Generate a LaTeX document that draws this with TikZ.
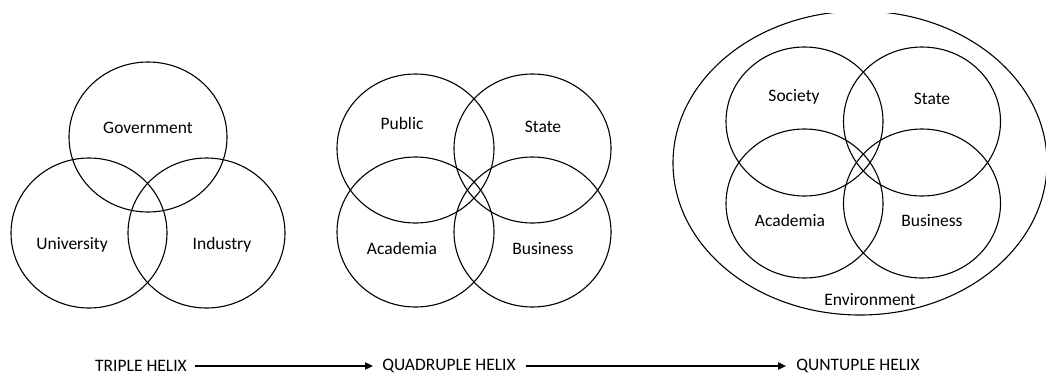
\documentclass[tikz,border=0pt]{standalone}
\usepackage{fontspec}
\setmainfont{Carlito}
\usetikzlibrary{arrows.meta}
\begin{document}
\begin{tikzpicture}[x=1pt,y=-1pt,
  ring/.style={draw=black,line width=1.1pt},
  lbl/.style={font=\fontsize{17.5}{20}\selectfont,inner sep=0pt},
  flow/.style={line width=1.8pt,-{Triangle[length=8pt,width=7pt]}}]
\useasboundingbox (0,0) rectangle (1046,376);
% Triple helix
\draw[ring] (148,137) ellipse [x radius=79,y radius=75];
\draw[ring] (89,233) ellipse [x radius=78,y radius=75];
\draw[ring] (206.5,233) ellipse [x radius=78.5,y radius=75];
\node[lbl] (gov) at (148,128) {Government};
\node[lbl] (uni) at (72,245) {University};
\node[lbl] (ind) at (222,245) {Industry};
% Quadruple helix
\draw[ring] (415.5,148.5) ellipse [x radius=78.5,y radius=74.5];
\draw[ring] (532.5,148.5) ellipse [x radius=78.5,y radius=74.5];
\draw[ring] (415.5,232) ellipse [x radius=78.5,y radius=75];
\draw[ring] (532.5,232) ellipse [x radius=78.5,y radius=75];
\node[lbl] (pub) at (402,123) {Public};
\node[lbl] (sta) at (543,127) {State};
\node[lbl] (aca) at (402,248) {Academia};
\node[lbl] (bus) at (543,249) {Business};
% Quintuple helix
\draw[ring] (860,163) ellipse [x radius=187,y radius=152];
\fill[white] (640,-1) rectangle (1046,12.6);
\draw[ring] (804.5,121.5) ellipse [x radius=78.5,y radius=74.5];
\draw[ring] (922,121.5) ellipse [x radius=78.5,y radius=74.5];
\draw[ring] (804.5,203.5) ellipse [x radius=78.5,y radius=74.5];
\draw[ring] (922,203.5) ellipse [x radius=78.5,y radius=74.5];
\node[lbl] (soc) at (794,97) {Society};
\node[lbl] (sta2) at (932,99) {State};
\node[lbl] (aca2) at (790,220) {Academia};
\node[lbl] (bus2) at (932,221) {Business};
\node[lbl] (env) at (870,300) {Environment};
% Bottom row
\node[lbl] (tri) at (141,366) {TRIPLE HELIX};
\node[lbl] (quad) at (449,366) {QUADRUPLE HELIX};
\node[lbl] (quin) at (858,366) {QUNTUPLE HELIX};
\draw[flow] ([xshift=8pt]tri.east) -- ([xshift=-9pt]quad.west);
\draw[flow] ([xshift=10pt]quad.east) -- ([xshift=-10pt]quin.west);
\end{tikzpicture}
\end{document}
